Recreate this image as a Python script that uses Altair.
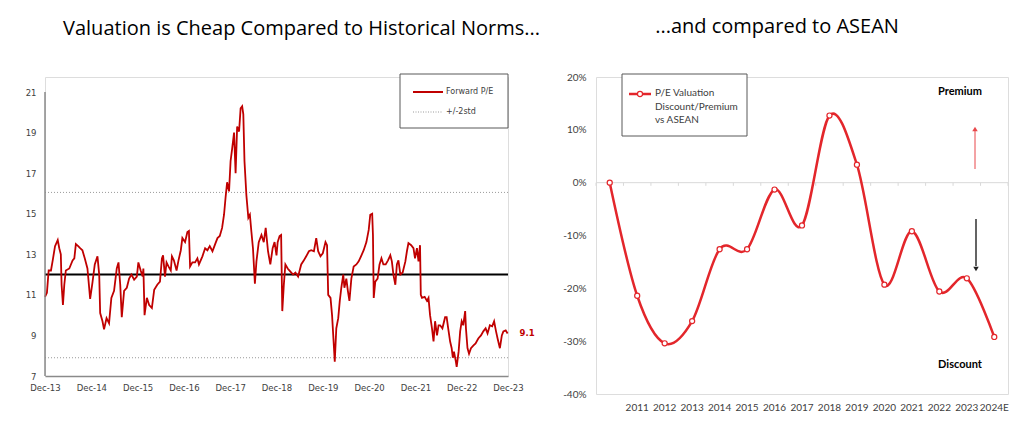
import altair as alt
import pandas as pd

# ---------------- Left panel: Forward P/E history ----------------
months_since_dec13 = [
    0.0, 0.5, 0.95, 1.55, 2.0, 2.6, 3.3, 3.7, 4.1, 4.3, 4.65, 5.0, 5.4, 6.3, 7.15, 7.6, 8.0, 8.6, 9.1, 9.7,
    10.3, 11.0, 11.7, 12.3, 12.9, 13.6, 14.05, 14.3, 14.9, 15.3, 15.95, 16.6, 17.2, 17.9, 18.6, 19.05, 19.5, 19.9,
    20.5, 21.2, 21.8, 22.4, 23.1, 23.8, 24.2, 24.8, 25.3, 25.5, 25.8, 26.4, 27.0, 27.7, 28.3, 29.1, 29.8,
    30.3, 30.6, 31.1, 31.5, 32.0, 32.6, 32.9, 33.4, 34.1, 34.6, 35.2, 35.6, 36.3, 36.9, 37.3, 37.6, 38.2, 38.9,
    39.5, 39.9, 40.8, 41.5, 42.1, 42.7, 43.4, 44.1, 44.7, 45.3, 45.9, 46.4, 46.8, 47.2, 47.7, 48.1, 48.5, 49.0,
    49.4, 49.8, 50.3, 50.7, 51.1, 51.4, 51.7, 52.2, 52.7, 53.1, 53.5, 53.9, 54.4, 54.8, 55.4, 56.1, 56.7, 57.2,
    57.8, 58.4, 59.0, 59.5, 60.0, 60.3, 60.8, 61.2, 61.5, 61.9, 62.3, 62.9, 63.6, 64.3, 64.9, 65.6, 66.4, 67.1,
    67.7, 68.4, 69.0, 69.7, 70.3, 70.8, 71.4, 72.0, 72.7, 73.1, 73.4, 74.0, 74.4, 74.9, 75.1, 75.5, 76.0, 76.4,
    76.8, 77.3, 77.6, 78.1, 78.5, 78.9, 79.4, 80.0, 80.7, 81.3, 81.9, 82.6, 83.3, 83.9, 84.3, 84.8, 85.0, 85.2,
    85.6, 86.2, 86.7, 87.2, 87.7, 88.3, 88.9, 89.5, 89.9, 90.3, 90.8, 91.2, 91.6, 92.1, 92.7, 93.4, 93.8, 94.2,
    94.9, 95.5, 95.9, 96.4, 96.8, 97.2, 97.4, 97.7, 98.4, 99.0, 99.4, 99.8, 100.3, 100.7, 101.1, 101.6, 102.0,
    102.4, 103.0, 103.7, 104.1, 104.5, 105.0, 105.4, 105.7, 106.0, 106.5, 106.7, 107.2, 107.6, 108.0, 108.4,
    108.9, 109.1, 109.5, 109.9, 110.4, 111.0, 111.6, 112.3, 113.0, 113.6, 114.2, 114.7, 115.3, 115.9, 116.4,
    116.9, 117.3, 117.9, 118.4, 118.8, 119.4, 119.9,
]
forward_pe = [
    10.9, 11.1, 12.2, 12.2, 12.7, 13.4, 13.7, 13.3, 13.0, 11.5, 10.5, 11.5, 12.2, 12.3, 12.7, 12.8, 13.5, 13.4, 13.3, 13.2,
    12.8, 12.3, 10.8, 11.6, 12.5, 12.9, 12.0, 10.1, 9.7, 9.3, 9.85, 9.6, 10.85, 11.2, 12.3, 12.6, 11.5, 9.9,
    11.2, 11.35, 11.8, 12.0, 11.75, 11.9, 12.6, 12.2, 11.9, 12.3, 10.0, 10.85, 10.5, 10.35, 11.25, 11.5, 11.65,
    12.8, 12.95, 11.9, 12.6, 12.4, 12.2, 12.9, 12.7, 12.2, 12.7, 13.2, 13.8, 13.6, 14.1, 14.15, 12.4, 12.6, 12.6,
    12.8, 12.5, 12.9, 13.3, 13.2, 13.4, 13.15, 13.5, 13.8, 13.9, 14.3, 14.95, 15.8, 16.55, 16.1, 17.6, 18.2, 19.0,
    17.0, 19.3, 19.05, 20.2, 20.3, 19.9, 17.6, 15.9, 14.8, 14.95, 14.1, 13.3, 11.55, 12.65, 13.6, 13.95, 13.6, 14.3,
    13.15, 12.5, 13.3, 13.6, 12.95, 13.6, 13.9, 13.95, 10.2, 11.5, 12.5, 12.3, 12.15, 12.0, 12.1, 11.9, 12.5, 12.7,
    12.9, 13.15, 13.2, 13.15, 13.8, 13.15, 12.9, 13.05, 13.6, 13.45, 11.0, 10.85, 10.0, 8.37, 7.7, 9.35, 9.85, 10.7,
    11.35, 12.0, 11.35, 11.8, 11.2, 10.7, 11.8, 12.4, 12.5, 12.65, 12.9, 13.2, 13.6, 14.2, 14.95, 15.0, 13.95, 10.85,
    11.65, 11.8, 12.5, 12.8, 12.5, 12.5, 12.7, 12.95, 12.65, 12.0, 11.5, 12.5, 12.7, 12.0, 12.1, 12.65, 13.15, 13.55,
    13.45, 13.3, 12.8, 13.3, 12.65, 13.45, 11.0, 10.85, 10.9, 10.7, 10.85, 10.0, 9.35, 8.7, 9.7, 9.0, 9.5,
    9.5, 9.35, 9.9, 9.9, 9.35, 8.7, 8.37, 7.9, 8.2, 7.7, 7.45, 8.2, 9.2, 9.7, 9.5,
    10.2, 9.35, 8.37, 8.1, 8.37, 8.5, 8.6, 8.85, 9.0, 9.2, 9.35, 9.1, 9.5, 9.45, 9.7,
    9.2, 8.85, 8.37, 9.0, 9.2, 9.25, 9.1,
]
pe_mean = [12.0]
pe_bands = [16.05, 7.9]
last_label = ["9.1"]
x_tick_labels = ["Dec-13", "Dec-14", "Dec-15", "Dec-16", "Dec-17", "Dec-18",
                 "Dec-19", "Dec-20", "Dec-21", "Dec-22", "Dec-23"]
y_ticks_left = [7, 9, 11, 13, 15, 17, 19, 21]

# ---------------- Right panel: discount vs ASEAN ----------------
years = ["2010", "2011", "2012", "2013", "2014", "2015", "2016", "2017", "2018",
         "2019", "2020", "2021", "2022", "2023", "2024E"]
discount = [0.0, -0.214, -0.304, -0.262, -0.126, -0.126, -0.013, -0.081, 0.127,
            0.034, -0.193, -0.092, -0.206, -0.181, -0.292]
y_ticks_right = [-0.4, -0.3, -0.2, -0.1, 0.0, 0.1, 0.2]

RED_L = "#C00000"
RED_R = "#E3262B"
GREY_TXT = "#404040"
AX_FONT = "DejaVu Sans"
TITLE_FONT = "Open Sans"

deco = pd.DataFrame({"k": [0]})

# ---------- left chart ----------
W_L, H_L = 463, 299
Y_TOP_L = 21 + 15 / (284 / 14)   # head-room above the 21 line so both panels share one top
lbl_js = "[" + ",".join("'%s'" % t for t in x_tick_labels) + "]"
x_left = alt.X("m:Q",
               scale=alt.Scale(domain=[0, 120], nice=False, zero=False),
               axis=alt.Axis(values=list(range(0, 121, 12)), labelExpr=lbl_js + "[round(datum.value/12)]",
                             title=None, grid=False, ticks=False, domainColor="#8a8a8a", domainWidth=1.5,
                             labelFlush=False, labelOverlap=False,
                             labelFont=AX_FONT, labelFontSize=8.5, labelColor=GREY_TXT, labelPadding=7))
y_left = alt.Y("pe:Q",
               scale=alt.Scale(domain=[7, Y_TOP_L], nice=False, zero=False),
               axis=alt.Axis(values=y_ticks_left, title=None, grid=False, ticks=False, domain=False,
                             labelFlush=False, labelOverlap=False, labelFont=AX_FONT,
                             labelFontSize=8.5, labelColor=GREY_TXT, labelPadding=9, minExtent=31))

df_pe = pd.DataFrame({"m": months_since_dec13, "pe": forward_pe})
y_axis_line = alt.Chart(deco).mark_rule(color="#8a8a8a", strokeWidth=1.5).encode(
    x=alt.datum(0), y=alt.datum(y_ticks_left[0]), y2=alt.datum(y_ticks_left[-1]))
pe_line = alt.Chart(df_pe).mark_line(color=RED_L, strokeWidth=1.8).encode(x=x_left, y=y_left)
mean_rule = alt.Chart(pd.DataFrame({"pe": pe_mean})).mark_rule(color="black", strokeWidth=2).encode(y="pe:Q")
band_rules = alt.Chart(pd.DataFrame({"pe": pe_bands})).mark_rule(
    color="#9a9a9a", strokeWidth=1, strokeDash=[1, 2]).encode(y="pe:Q")
last_txt = alt.Chart(pd.DataFrame({"m": [months_since_dec13[-1]], "pe": [forward_pe[-1]], "t": last_label})).mark_text(
    align="left", baseline="middle", dx=12, color=RED_L, fontWeight="bold", fontSize=8.5, font=AX_FONT
).encode(x="m:Q", y="pe:Q", text="t:N")

leg_box_l = alt.Chart(deco).mark_rect(fill="white", stroke="#595959", strokeWidth=1).encode(
    x=alt.value(355), x2=alt.value(463), y=alt.value(-3), y2=alt.value(51))
leg_line_l = alt.Chart(deco).mark_rule(color=RED_L, strokeWidth=2).encode(
    x=alt.value(368), x2=alt.value(398), y=alt.value(15))
leg_dot_l = alt.Chart(deco).mark_rule(color="#9a9a9a", strokeWidth=1, strokeDash=[1, 1.5]).encode(
    x=alt.value(368), x2=alt.value(398), y=alt.value(35))
leg_t1 = alt.Chart(deco).mark_text(align="left", baseline="middle", font=AX_FONT, fontSize=8, color=GREY_TXT).encode(
    x=alt.value(401), y=alt.value(15), text=alt.value("Forward P/E"))
leg_t2 = alt.Chart(deco).mark_text(align="left", baseline="middle", font=AX_FONT, fontSize=8, color=GREY_TXT).encode(
    x=alt.value(401), y=alt.value(35), text=alt.value("+/-2std"))

left = alt.layer(band_rules, mean_rule, pe_line, y_axis_line, last_txt, leg_box_l, leg_line_l, leg_dot_l,
                 leg_t1, leg_t2).properties(
    width=W_L, height=H_L,
    title=alt.TitleParams("Valuation is Cheap Compared to Historical Norms...", font=TITLE_FONT, fontSize=20,
                          fontWeight="normal", color="black", anchor="middle", dx=25, offset=35))

# ---------- right chart ----------
W_R, H_R = 412, 317
x_axis_r = alt.Axis(title=None, domain=False, ticks=False, grid=False, labelAngle=0, bandPosition=0.5,
                    labelExpr="datum.value == '2010' ? '' : datum.value",
                    labelFont="Lato", labelFontSize=10, labelColor=GREY_TXT, labelPadding=8)
band_scale = alt.Scale(type="band", paddingInner=0, paddingOuter=0)
x_right = alt.X("year:N", sort=years, bandPosition=0.5, scale=band_scale, axis=x_axis_r)
y_right = alt.Y("d:Q", scale=alt.Scale(domain=[-0.4, 0.2], nice=False),
                axis=alt.Axis(values=y_ticks_right, labelExpr="round(datum.value*100) + '%'", title=None,
                              domain=False, ticks=False, grid=False, labelFont="Lato", labelFontSize=10,
                              labelFlush=False, labelColor=GREY_TXT, labelPadding=10))

df_d = pd.DataFrame({"year": years, "d": discount})
zero_rule = alt.Chart(pd.DataFrame({"d": [0.0]})).mark_rule(color="#d9d9d9", strokeWidth=1).encode(y="d:Q")
zero_ticks = alt.Chart(pd.DataFrame({"year": years})).mark_rule(color="#d9d9d9", strokeWidth=1).encode(
    x=alt.X("year:N", sort=years, bandPosition=0, scale=band_scale, axis=x_axis_r),
    y=alt.datum(0.0), y2=alt.datum(-0.006))
zero_tick_end = alt.Chart(pd.DataFrame({"year": years[-1:]})).mark_rule(color="#d9d9d9", strokeWidth=1).encode(
    x=alt.X("year:N", sort=years, bandPosition=1, scale=band_scale, axis=x_axis_r),
    y=alt.datum(0.0), y2=alt.datum(-0.006))
d_line = alt.Chart(df_d).mark_line(color=RED_R, strokeWidth=2.5, interpolate="cardinal").encode(x=x_right, y=y_right)
d_pts = alt.Chart(df_d).mark_point(filled=True, fill="white", stroke=RED_R, strokeWidth=1.2, size=26,
                                   opacity=1, fillOpacity=1).encode(x=x_right, y="d:Q")

prem = alt.Chart(deco).mark_text(font="Lato", fontSize=11, fontWeight="bold", color="black").encode(
    x=alt.value(364), y=alt.value(15), text=alt.value("Premium"))
disc = alt.Chart(deco).mark_text(font="Lato", fontSize=11, fontWeight="bold", color="black").encode(
    x=alt.value(364), y=alt.value(288), text=alt.value("Discount"))
up_shaft = alt.Chart(deco).mark_rule(color="#E8474A", strokeWidth=1).encode(
    x=alt.value(379), y=alt.value(54), y2=alt.value(92))
up_head = alt.Chart(deco).mark_point(shape="triangle-up", filled=True, color="#E8474A", size=30, opacity=1).encode(
    x=alt.value(379), y=alt.value(52))
dn_shaft = alt.Chart(deco).mark_rule(color="#303030", strokeWidth=1.5).encode(
    x=alt.value(380), y=alt.value(142), y2=alt.value(189))
dn_head = alt.Chart(deco).mark_point(shape="triangle-down", filled=True, color="#202020", size=30, opacity=1).encode(
    x=alt.value(380), y=alt.value(192))

leg_box_r = alt.Chart(deco).mark_rect(fill="white", stroke="#595959", strokeWidth=1).encode(
    x=alt.value(26), x2=alt.value(151), y=alt.value(-3), y2=alt.value(59))
leg_line_r = alt.Chart(deco).mark_rule(color=RED_R, strokeWidth=2.5).encode(
    x=alt.value(33), x2=alt.value(55), y=alt.value(17))
leg_pt_r = alt.Chart(deco).mark_point(filled=True, fill="white", stroke=RED_R, strokeWidth=1.2, size=26,
                                      opacity=1, fillOpacity=1).encode(x=alt.value(44), y=alt.value(17))
leg_txt_r = alt.Chart(deco).mark_text(align="left", baseline="top", font="Lato", fontSize=10, color=GREY_TXT,
                                      lineBreak="\n", lineHeight=13.5).encode(
    x=alt.value(59), y=alt.value(11), text=alt.value("P/E Valuation\nDiscount/Premium\nvs ASEAN"))

right = alt.layer(zero_rule, zero_ticks, zero_tick_end, d_line, d_pts, prem, disc, up_shaft, up_head,
                  dn_shaft, dn_head, leg_box_r, leg_line_r, leg_pt_r, leg_txt_r).properties(
    width=W_R, height=H_R,
    title=alt.TitleParams("...and compared to ASEAN", font=TITLE_FONT, fontSize=20,
                          fontWeight="normal", color="black", anchor="middle", dx=-25, offset=35))

chart = alt.hconcat(left, right, spacing=21).properties(
    padding={"left": 5, "top": 8, "right": 5, "bottom": 5}
).configure_view(stroke=None).configure(background="white")

chart.save("out.html", embed_options={"renderer": "svg", "actions": False})
